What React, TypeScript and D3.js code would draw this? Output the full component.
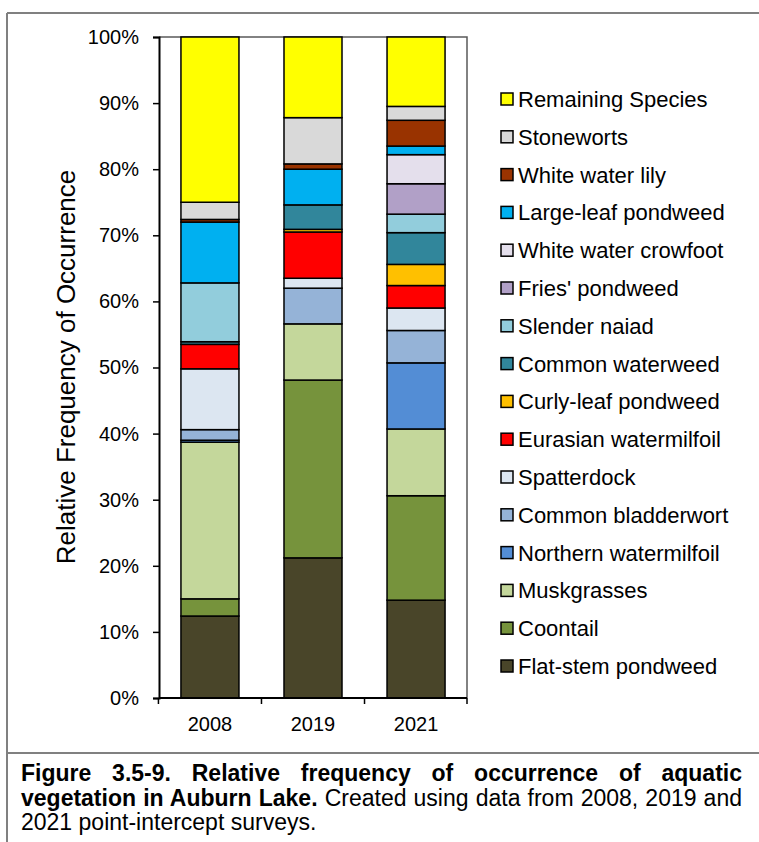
import React from 'react';
import * as d3 from 'd3';

// survey years on the x axis
const years = ['2008', '2019', '2021'];

// species, stacked from bottom to top
const species = [
    'Flat-stem pondweed',
    'Coontail',
    'Muskgrasses',
    'Northern watermilfoil',
    'Common bladderwort',
    'Spatterdock',
    'Eurasian watermilfoil',
    'Curly-leaf pondweed',
    'Common waterweed',
    'Slender naiad',
    "Fries' pondweed",
    'White water crowfoot',
    'Large-leaf pondweed',
    'White water lily',
    'Stoneworts',
    'Remaining Species',
];

const speciesColors = [
    '#494529', '#76933C', '#C4D79B', '#538DD5', '#95B3D7', '#DCE6F1',
    '#FF0000', '#FFC000', '#31869B', '#92CDDC', '#B1A0C7', '#E4DFEC',
    '#00B0F0', '#993300', '#D9D9D9', '#FFFF00',
];

// relative frequency (%) per species, same order as `species`
const values2008 = [12.4, 2.6, 23.7, 0.3, 1.6, 9.2, 3.7, 0, 0.4, 8.9, 0, 0, 9.2, 0.4, 2.6, 25.0];
const values2019 = [21.2, 26.9, 8.5, 0, 5.4, 1.5, 7.0, 0.4, 3.7, 0, 0, 0, 5.4, 0.8, 7.0, 12.2];
const values2021 = [14.8, 15.8, 10.1, 10.0, 4.9, 3.4, 3.4, 3.2, 4.8, 2.8, 4.6, 4.4, 1.3, 3.9, 2.1, 10.5];

const yTicks = [0, 10, 20, 30, 40, 50, 60, 70, 80, 90, 100];

const captionBold1 = 'Figure 3.5-9. Relative frequency of occurrence of aquatic';
const captionBold2 = 'vegetation in Auburn Lake. ';
const captionRest2 = 'Created using data from 2008, 2019 and';
const captionLine3 = '2021 point-intercept surveys.';

const dims = {
    width: 759,
    height: 842,
    plotLeft: 159,
    plotRight: 467,
    plotTop: 37,
    plotBottom: 698,
};

const FONT = '"Liberation Sans", Arial, Helvetica, sans-serif';

const App: React.FC = () => {
    const svgRef = React.useRef<SVGSVGElement>(null);

    React.useEffect(() => {
        const svg = d3.select(svgRef.current);
        svg.selectAll('*').remove();

        const allValues = [values2008, values2019, values2021];
        const table = years.map((year, i) => {
            const row: any = { year };
            species.forEach((s, j) => { row[s] = allValues[i][j]; });
            return row;
        });
        const series = d3.stack().keys(species)(table);

        const x = d3.scaleBand()
            .domain(years)
            .range([dims.plotLeft, dims.plotRight])
            .paddingInner(0.437)
            .paddingOuter(0.213);
        const y = d3.scaleLinear()
            .domain([0, 100])
            .range([dims.plotBottom, dims.plotTop]);

        // outer frame of the figure
        const frame = svg.append('g').attr('stroke', '#808080').attr('stroke-width', 2);
        frame.append('line').attr('x1', 7).attr('x2', 759).attr('y1', 13).attr('y2', 13);
        frame.append('line').attr('x1', 7).attr('x2', 7).attr('y1', 13).attr('y2', 842);
        frame.append('line').attr('x1', 7).attr('x2', 759).attr('y1', 753).attr('y2', 753);

        // plot area border (top + right)
        svg.append('path')
            .attr('d', `M${dims.plotLeft},${dims.plotTop}H${dims.plotRight}V${dims.plotBottom}`)
            .attr('fill', 'none')
            .attr('stroke', '#595959')
            .attr('stroke-width', 1.5);

        // stacked bars
        series.forEach((s, i) => {
            svg.append('g')
                .attr('fill', speciesColors[i])
                .selectAll('rect')
                .data(s.filter(d => d[1] - d[0] > 0))
                .enter().append('rect')
                .attr('x', d => x(d.data.year as string)!)
                .attr('width', x.bandwidth())
                .attr('y', d => y(d[1]))
                .attr('height', d => y(d[0]) - y(d[1]))
                .attr('stroke', '#000')
                .attr('stroke-width', 1.5);
        });

        // y axis
        const yAxis = d3.axisLeft(y)
            .tickValues(yTicks)
            .tickFormat(d => `${d}%`)
            .tickSize(6)
            .tickPadding(14);
        const yg = svg.append('g')
            .attr('transform', `translate(${dims.plotLeft},0)`)
            .call(yAxis);
        yg.select('.domain').attr('stroke', '#000').attr('stroke-width', 2);
        yg.selectAll('.tick line').attr('stroke', '#000').attr('stroke-width', 1.5);
        yg.selectAll('.tick text')
            .attr('font-family', FONT)
            .attr('font-size', 20)
            .attr('fill', '#000');

        // x axis: ticks between categories
        const step = x.step();
        const bounds = years.map(yr => x(yr)! - step * x.paddingInner() / 2);
        bounds.push(dims.plotRight);
        const xg = svg.append('g');
        xg.append('line')
            .attr('x1', dims.plotLeft).attr('x2', dims.plotRight)
            .attr('y1', dims.plotBottom).attr('y2', dims.plotBottom)
            .attr('stroke', '#000').attr('stroke-width', 2);
        xg.selectAll('line.tk').data(bounds).enter().append('line')
            .attr('class', 'tk')
            .attr('x1', d => d).attr('x2', d => d)
            .attr('y1', dims.plotBottom).attr('y2', dims.plotBottom + 6)
            .attr('stroke', '#000').attr('stroke-width', 1.5);
        xg.selectAll('text').data(years).enter().append('text')
            .attr('x', d => x(d)! + x.bandwidth() / 2)
            .attr('y', 731)
            .attr('text-anchor', 'middle')
            .attr('font-family', FONT)
            .attr('font-size', 20)
            .text(d => d);

        // y axis title
        svg.append('text')
            .attr('transform', 'translate(75,367) rotate(-90)')
            .attr('text-anchor', 'middle')
            .attr('font-family', FONT)
            .attr('font-size', 26)
            .text('Relative Frequency of Occurrence');

        // legend, top to bottom
        const legendItems = species.map((s, i) => ({ name: s, color: speciesColors[i] })).reverse();
        const legend = svg.append('g');
        const rows = legend.selectAll('g').data(legendItems).enter().append('g')
            .attr('transform', (d, i) => `translate(501,${99 + i * 37.8})`);
        rows.append('rect')
            .attr('x', 0).attr('y', -6)
            .attr('width', 12).attr('height', 12)
            .attr('fill', d => d.color)
            .attr('stroke', '#000')
            .attr('stroke-width', 1.5);
        rows.append('text')
            .attr('x', 17)
            .attr('dy', '0.36em')
            .attr('font-family', FONT)
            .attr('font-size', 22)
            .text(d => d.name);

        // caption
        const cap = svg.append('g').attr('font-family', FONT).attr('font-size', 23).attr('fill', '#000');
        const l1 = cap.append('text').attr('x', 21).attr('y', 781).attr('font-weight', 'bold').text(captionBold1);
        const l2 = cap.append('text').attr('x', 21).attr('y', 805.5);
        l2.append('tspan').attr('font-weight', 'bold').text(captionBold2);
        l2.append('tspan').text(captionRest2);
        cap.append('text').attr('x', 21).attr('y', 830).text(captionLine3);

        const justify = (sel: any, target: number) => {
            const node = sel.node() as SVGTextElement;
            const len = node.getComputedTextLength();
            const spaces = (node.textContent || '').split(' ').length - 1;
            if (spaces > 0 && target > len) sel.attr('word-spacing', (target - len) / spaces);
        };
        justify(l1, 742 - 21);
        justify(l2, 742 - 21);
    }, []);

    return (
        <svg
            ref={svgRef}
            width={dims.width}
            height={dims.height}
            style={{ position: 'absolute', left: 0, top: 0, background: '#fff' }}
        />
    );
};

export default App;
